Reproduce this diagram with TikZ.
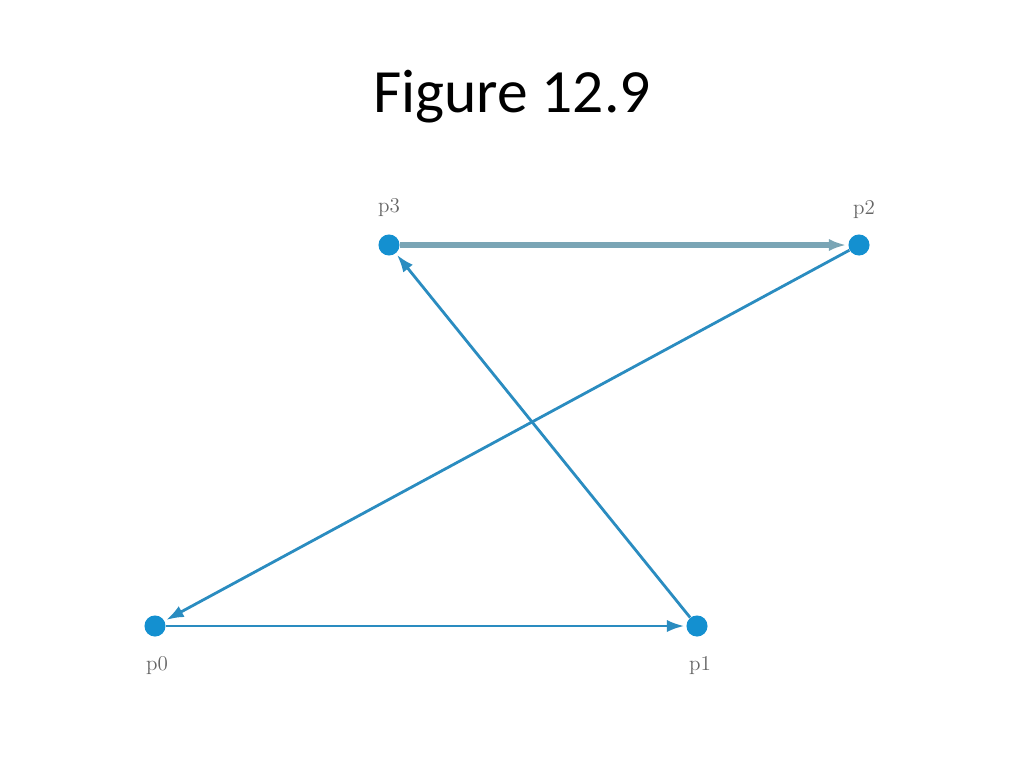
\documentclass[tikz,border=0pt]{standalone}
\usepackage{fontspec}
\newfontfamily\titlefont{Carlito}
\usetikzlibrary{arrows.meta}
\definecolor{dotblue}{HTML}{1490D0}
\definecolor{edgeblue}{HTML}{2A8CC0}
\definecolor{edgegray}{HTML}{7AA5B5}
\tikzset{
  pt/.style={circle, fill=dotblue, inner sep=0pt, minimum size=12pt},
  lbl/.style={text=gray!80!black, font=\fontsize{12}{14}\selectfont},
  edge/.style={edgeblue, line width=1.6pt, -{Latex[length=10pt,width=7pt]}, shorten >=1pt}
}
\begin{document}
\begin{tikzpicture}[x=0.02cm, y=-0.02cm]
					\useasboundingbox (0,0) rectangle (1024,768);
					\node[font=\titlefont\fontsize{35}{40}\selectfont] (title) at (512,97) {Figure 12.9};
					\node[pt] (p3) at (389,245) {};
					\node[pt] (p2) at (859,245) {};
					\node[pt] (p0) at (155,626) {};
					\node[pt] (p1) at (697,626) {};
					\node[lbl] (l3) at (389,208) {p3};
					\node[lbl] (l2) at (864,210) {p2};
					\node[lbl] (l0) at (157,666) {p0};
					\node[lbl] (l1) at (700,666) {p1};
					\draw[edge, edgegray, line width=3pt] (p3) -- (p2);
					\draw[edge] (p1) -- (p3);
					\draw[edge] (p2) -- (p0);
					\draw[edge] (p0) -- (p1);
				\end{tikzpicture}
\end{document}
